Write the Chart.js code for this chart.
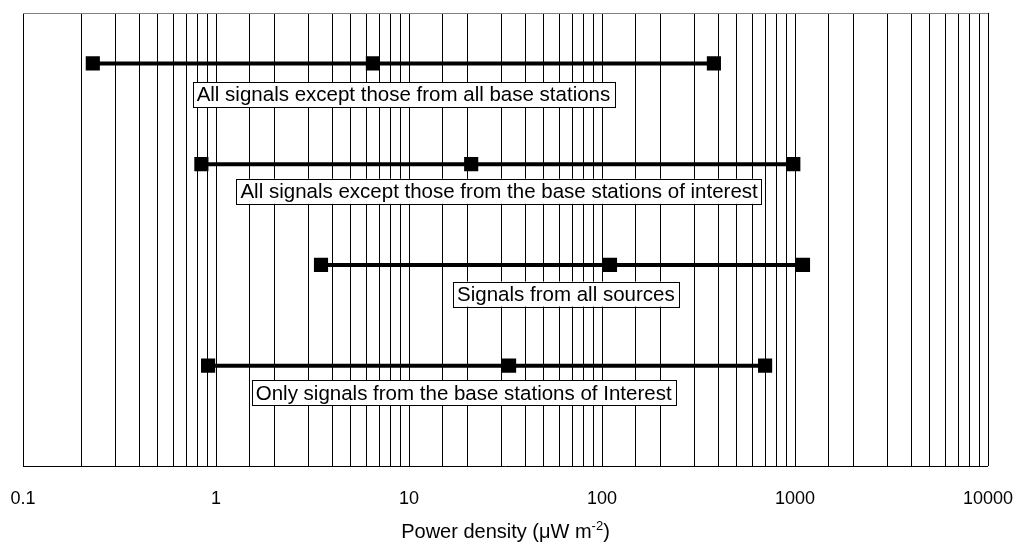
<!DOCTYPE html>
<html>
<head>
<meta charset="utf-8">
<script src="https://cdn.jsdelivr.net/npm/chart.js@4.4.1/dist/chart.umd.min.js"></script>
<style>
  html, body { margin: 0; padding: 0; background: #fff; }
  #wrap { width: 1018px; height: 542px; }
</style>
</head>
<body>
<div id="wrap"><canvas id="powerChart" width="1018" height="542"></canvas></div>
<script>
// Ranges (power density, uW m^-2)
const rowNames = [
  'All signals except those from all base stations',
  'All signals except those from the base stations of interest',
  'Signals from all sources',
  'Only signals from the base stations of Interest'
];
const lowValues = [0.23, 0.84, 3.5, 0.91];
const midValues = [6.5, 21, 110, 33];
const highValues = [380, 980, 1100, 700];
const rowLevels = [4, 3, 2, 1];
const tickLabels = ['0.1', '1', '10', '100', '1000', '10000'];

// where each caption box sits (x in data units, drop below its line in y units)
const captionX = [9.36, 29.3, 65.0, 19.2];
const captionDrop = [0.31, 0.27, 0.29, 0.27];

const FONT = 'Arial, "Liberation Sans", sans-serif';

const datasets = rowNames.map((name, i) => ({
  label: name,
  data: [
    { x: lowValues[i], y: rowLevels[i] },
    { x: midValues[i], y: rowLevels[i] },
    { x: highValues[i], y: rowLevels[i] }
  ],
  borderColor: '#000',
  backgroundColor: '#000',
  borderWidth: 4,
  pointStyle: 'rect',
  pointRadius: 10,
  pointBorderWidth: 0,
  tension: 0
}));

// caption boxes next to each range
const captionPlugin = {
  id: 'captions',
  afterDatasetsDraw(chart) {
    const { ctx, scales } = chart;
    ctx.save();
    ctx.font = '20.5px ' + FONT;
    ctx.textAlign = 'center';
    ctx.textBaseline = 'middle';
    rowNames.forEach((name, i) => {
      const cx = scales.x.getPixelForValue(captionX[i]);
      const cy = scales.y.getPixelForValue(rowLevels[i] - captionDrop[i]);
      const w = ctx.measureText(name).width + 8;
      const h = 25;
      ctx.fillStyle = '#fff';
      ctx.fillRect(cx - w / 2, cy - h / 2, w, h);
      ctx.strokeStyle = '#000';
      ctx.lineWidth = 1;
      ctx.strokeRect(Math.round(cx - w / 2) + 0.5, Math.round(cy - h / 2) + 0.5, Math.round(w), h);
      ctx.fillStyle = '#000';
      ctx.fillText(name, cx, cy + 1);
    });
    ctx.restore();
  }
};

// frame + axis title with superscript
const framePlugin = {
  id: 'frame',
  afterDraw(chart) {
    const { ctx, chartArea: a } = chart;
    ctx.save();
    ctx.strokeStyle = '#808080';
    ctx.lineWidth = 1;
    ctx.beginPath();
    ctx.moveTo(a.left, a.top + 0.5);
    ctx.lineTo(a.right, a.top + 0.5);
    ctx.stroke();
    ctx.strokeStyle = '#000';
    ctx.beginPath();
    ctx.moveTo(a.left, Math.round(a.bottom) + 0.5);
    ctx.lineTo(a.right, Math.round(a.bottom) + 0.5);
    ctx.stroke();

    const main = 'Power density (\u03bcW m';
    const sup = '-2';
    const tail = ')';
    ctx.fillStyle = '#000';
    ctx.textBaseline = 'alphabetic';
    ctx.textAlign = 'left';
    ctx.font = '20px ' + FONT;
    const w1 = ctx.measureText(main).width;
    const w3 = ctx.measureText(tail).width;
    ctx.font = '13px ' + FONT;
    const w2 = ctx.measureText(sup).width;
    const cx = (a.left + a.right) / 2;
    let x = cx - (w1 + w2 + w3) / 2;
    const base = 538;
    ctx.font = '20px ' + FONT;
    ctx.fillText(main, x, base);
    x += w1;
    ctx.font = '13px ' + FONT;
    ctx.fillText(sup, x, base - 8);
    x += w2;
    ctx.font = '20px ' + FONT;
    ctx.fillText(tail, x, base);
    ctx.restore();
  }
};

new Chart(document.getElementById('powerChart'), {
  type: 'line',
  data: { datasets },
  options: {
    responsive: false,
    animation: false,
    layout: { padding: { left: 23, right: 30, top: 13, bottom: 10 } },
    plugins: {
      legend: { display: false },
      tooltip: { enabled: false }
    },
    scales: {
      x: {
        type: 'logarithmic',
        min: 0.1,
        max: 10000,
        border: { display: false },
        grid: { color: '#000', lineWidth: 1, drawTicks: false },
        afterFit(scale) {
          // let the end labels hang past the plot edges
          scale.paddingLeft = 0;
          scale.paddingRight = 0;
        },
        ticks: {
          autoSkip: false,
          maxRotation: 0,
          padding: 22,
          color: '#000',
          font: { family: FONT, size: 18 },
          callback(value) {
            const s = String(+value.toPrecision(6));
            return tickLabels.includes(s) ? s : '';
          }
        }
      },
      y: {
        type: 'linear',
        min: 0,
        max: 4.5,
        display: false
      }
    }
  },
  plugins: [captionPlugin, framePlugin]
});
</script>
</body>
</html>
